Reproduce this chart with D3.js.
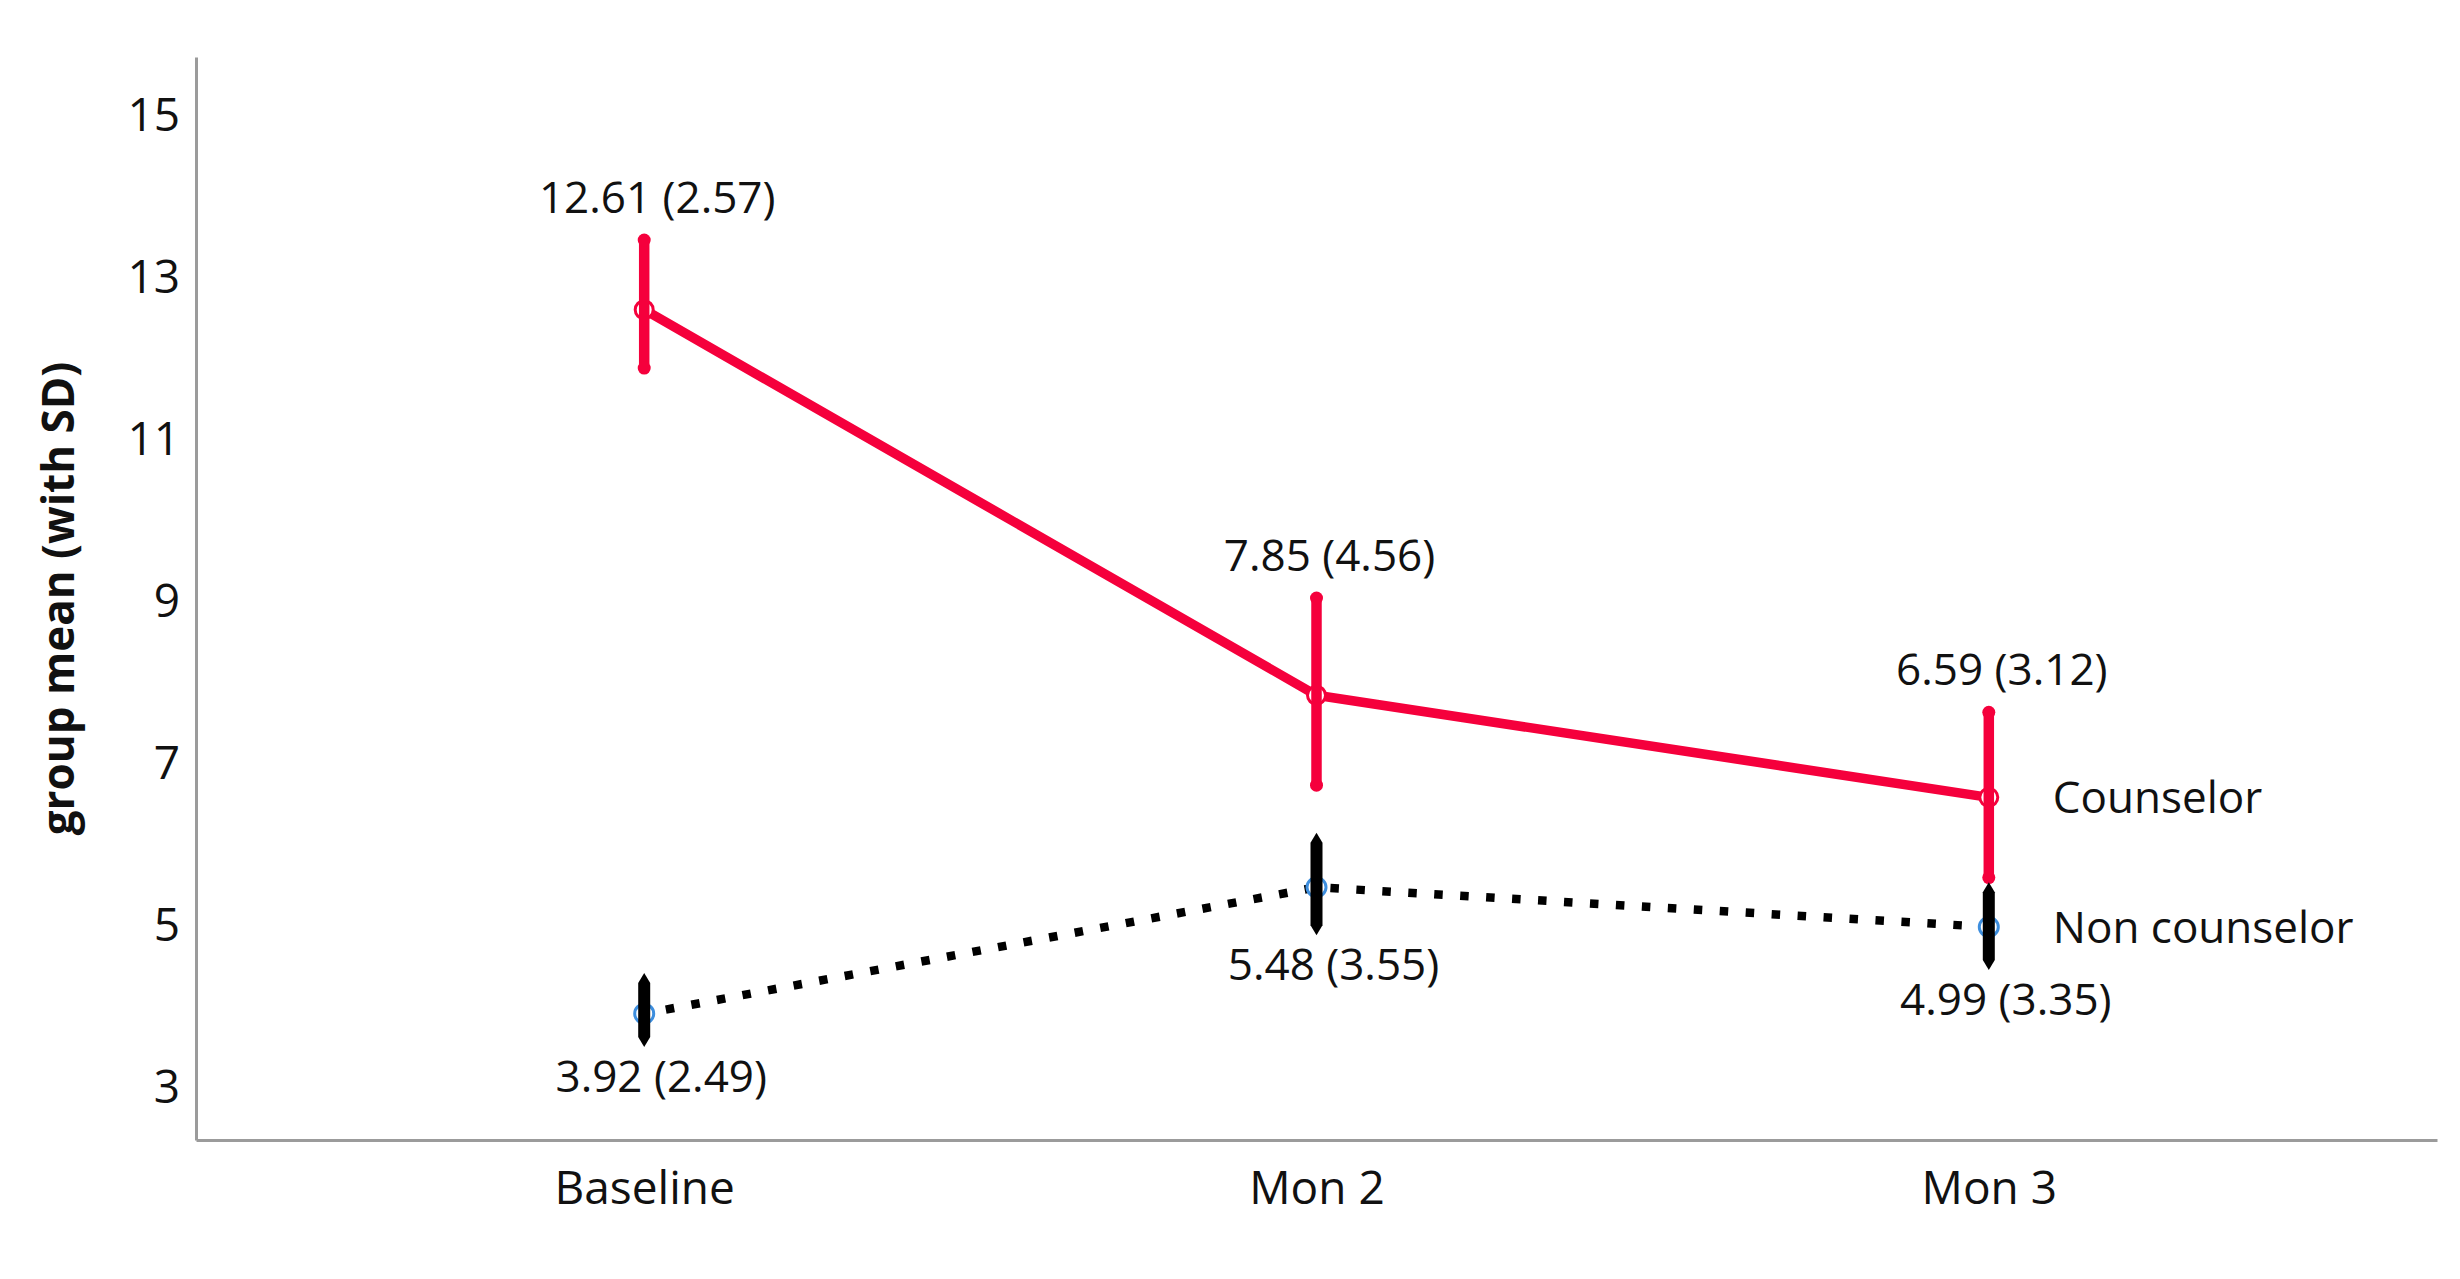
<!DOCTYPE html>
<html>
<head>
<meta charset="utf-8">
<title>group mean (with SD)</title>
<script src="https://cdn.jsdelivr.net/npm/d3@7"></script>
<style>
    body { margin: 0; padding: 0; background: #fff; }
    svg { display: block; font-family: "Open Sans", "DejaVu Sans", sans-serif; }
</style>
</head>
<body>
<svg id="chart" width="2460" height="1279"></svg>
<script>
    // values
    var categories = ["Baseline", "Mon 2", "Mon 3"];
    var groupNames = ["Counselor", "Non counselor"];

    var counselorMean = [12.61, 7.85, 6.59];
    var counselorSD = [2.57, 4.56, 3.12];
    var counselorLow = [11.89, 6.74, 5.60];
    var counselorHigh = [13.47, 9.05, 7.64];

    var nonMean = [3.92, 5.48, 4.99];
    var nonSD = [2.49, 3.55, 3.35];
    var nonLow = [3.57, 4.95, 4.52];
    var nonHigh = [4.36, 6.09, 5.48];

    var yTicks = [3, 5, 7, 9, 11, 13, 15];
    var yDomain = [2.36, 15.73];

    var RED = "#f5003c";
    var AXIS = "#9b9b9b";

    var svg = d3.select("#chart");

    var x = d3.scalePoint()
        .domain(categories)
        .range([196, 2437])
        .padding(2 / 3);

    var y = d3.scaleLinear()
        .domain(yDomain)
        .range([1140, 57]);

    // axes
    var xAxis = svg.append("g")
        .attr("transform", "translate(0,1140)")
        .call(d3.axisBottom(x).tickSize(0).tickSizeOuter(0).tickPadding(31));
    xAxis.select(".domain").attr("stroke", AXIS).attr("stroke-width", 3);
    xAxis.selectAll("text")
        .attr("fill", "#111")
        .style("font-size", "46px")
        .style("font-family", "'Open Sans', sans-serif");

    var yAxis = svg.append("g")
        .attr("transform", "translate(196,0)")
        .call(d3.axisLeft(y).tickValues(yTicks).tickSize(0).tickSizeOuter(0).tickPadding(16));
    yAxis.select(".domain").attr("stroke", AXIS).attr("stroke-width", 3);
    yAxis.selectAll("text")
        .attr("fill", "#111")
        .style("font-size", "46px")
        .style("font-family", "'Open Sans', sans-serif");

    svg.append("text")
        .attr("transform", "translate(74," + ((1140 + 57) / 2) + ") rotate(-90)")
        .attr("text-anchor", "middle")
        .style("font-size", "44px")
        .style("font-weight", "bold")
        .attr("fill", "#111")
        .text("group mean (with SD)");

    function rows(mean, sd, lo, hi) {
        return categories.map(function (c, i) {
            return { cat: c, mean: mean[i], sd: sd[i], lo: lo[i], hi: hi[i] };
        });
    }
    var counselor = rows(counselorMean, counselorSD, counselorLow, counselorHigh);
    var noncounselor = rows(nonMean, nonSD, nonLow, nonHigh);

    var line = d3.line()
        .x(function (d) { return x(d.cat); })
        .y(function (d) { return y(d.mean); });

    var plot = svg.append("g");

    // lines
    plot.append("path")
        .datum(counselor)
        .attr("d", line)
        .attr("fill", "none")
        .attr("stroke", RED)
        .attr("stroke-width", 9.5)
        .attr("stroke-linejoin", "round");

    plot.append("path")
        .datum(noncounselor)
        .attr("d", line)
        .attr("fill", "none")
        .attr("stroke", "#000")
        .attr("stroke-width", 8.5)
        .attr("stroke-dasharray", "8.5,17.5")
        .attr("stroke-dashoffset", -22);

    // mean markers
    plot.selectAll(".c-dot")
        .data(counselor)
        .enter().append("circle")
        .attr("cx", function (d) { return x(d.cat); })
        .attr("cy", function (d) { return y(d.mean); })
        .attr("r", 9)
        .attr("fill", "#fff")
        .attr("stroke", RED)
        .attr("stroke-width", 3);

    plot.selectAll(".n-dot")
        .data(noncounselor)
        .enter().append("circle")
        .attr("cx", function (d) { return x(d.cat); })
        .attr("cy", function (d) { return y(d.mean); })
        .attr("r", 9.5)
        .attr("fill", "#fff")
        .attr("stroke", "#3d8ede")
        .attr("stroke-width", 3);

    // error bars, counselor: round ends
    plot.selectAll(".c-bar")
        .data(counselor)
        .enter().append("line")
        .attr("x1", function (d) { return x(d.cat); })
        .attr("x2", function (d) { return x(d.cat); })
        .attr("y1", function (d) { return y(d.hi); })
        .attr("y2", function (d) { return y(d.lo); })
        .attr("stroke", RED)
        .attr("stroke-width", 10.5);

    plot.selectAll(".c-cap")
        .data(counselor.flatMap(function (d) { return [{ cat: d.cat, v: d.hi }, { cat: d.cat, v: d.lo }]; }))
        .enter().append("circle")
        .attr("cx", function (d) { return x(d.cat); })
        .attr("cy", function (d) { return y(d.v); })
        .attr("r", 6.5)
        .attr("fill", RED);

    // error bars, non counselor: tapered ends
    var bar = d3.line();
    plot.selectAll(".n-bar")
        .data(noncounselor)
        .enter().append("path")
        .attr("d", function (d) {
            var cx = x(d.cat), t = y(d.hi), b = y(d.lo);
            return bar([[cx, t - 5], [cx + 6, t + 5], [cx + 6, b - 5], [cx, b + 5],
                [cx - 6, b - 5], [cx - 6, t + 5]]) + "Z";
        })
        .attr("fill", "#000");

    // value labels
    function fmt(d) { return d.mean.toFixed(2) + " (" + d.sd.toFixed(2) + ")"; }

    plot.selectAll(".c-lab")
        .data(counselor)
        .enter().append("text")
        .attr("x", function (d) { return x(d.cat) + 13; })
        .attr("y", function (d) { return y(d.hi) - 27; })
        .attr("text-anchor", "middle")
        .style("font-size", "44px")
        .attr("fill", "#111")
        .text(fmt);

    plot.selectAll(".n-lab")
        .data(noncounselor)
        .enter().append("text")
        .attr("x", function (d) { return x(d.cat) + 17; })
        .attr("y", function (d) { return y(d.lo) + 50; })
        .attr("text-anchor", "middle")
        .style("font-size", "44px")
        .attr("fill", "#111")
        .text(fmt);

    // series names at the last point
    var last = categories[categories.length - 1];
    [counselor, noncounselor].forEach(function (s, i) {
        svg.append("text")
            .attr("x", x(last) + 64)
            .attr("y", y(s[s.length - 1].mean))
            .attr("dy", "0.36em")
            .style("font-size", "44px")
            .attr("fill", "#111")
            .text(groupNames[i]);
    });
</script>
</body>
</html>
